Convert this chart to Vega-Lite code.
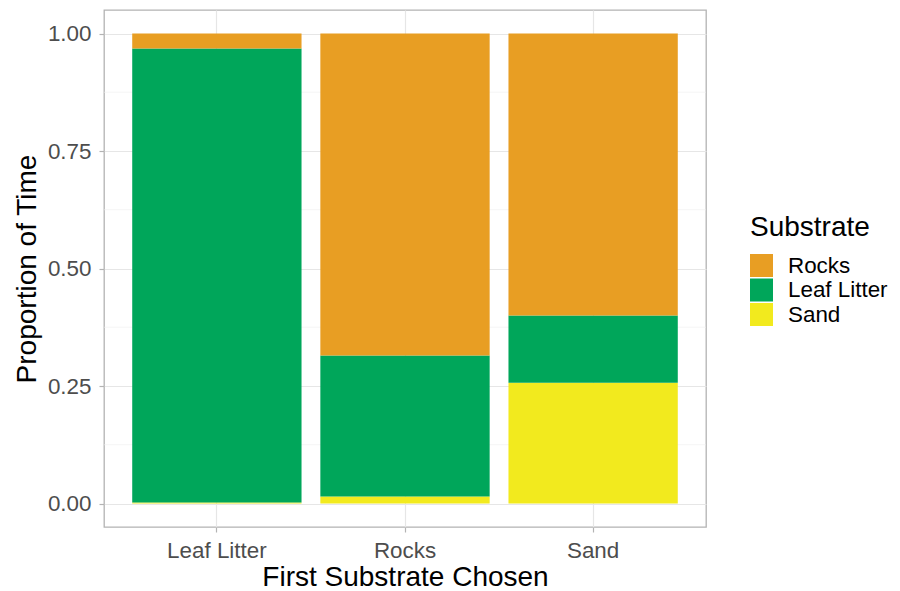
{
  "$schema": "https://vega.github.io/schema/vega-lite/v6.json",
  "width": 602,
  "height": 517,
  "autosize": {"type": "none"},
  "padding": {"left": 104, "top": 10, "right": 194, "bottom": 64},
  "background": "white",
  "config": {
    "font": "Liberation Sans",
    "view": {"stroke": "#b3b3b3", "strokeWidth": 1.3},
    "axis": {
      "labelFont": "Liberation Sans",
      "titleFont": "Liberation Sans",
      "labelFontSize": 22.4,
      "labelColor": "#4d4d4d",
      "titleFontSize": 28,
      "titleFontWeight": "normal",
      "titleColor": "#000000",
      "domain": false,
      "tickColor": "#b3b3b3",
      "tickSize": 5,
      "tickWidth": 1.2,
      "gridColor": "#e6e6e6",
      "gridWidth": 1.2
    },
    "legend": {
      "titleFont": "Liberation Sans",
      "labelFont": "Liberation Sans"
    }
  },
  "datasets": {
    "props": [
      {"first": "Leaf Litter", "Substrate": "Sand", "proportion": 0.002},
      {"first": "Leaf Litter", "Substrate": "Leaf Litter", "proportion": 0.966},
      {"first": "Leaf Litter", "Substrate": "Rocks", "proportion": 0.032},
      {"first": "Rocks", "Substrate": "Sand", "proportion": 0.015},
      {"first": "Rocks", "Substrate": "Leaf Litter", "proportion": 0.300},
      {"first": "Rocks", "Substrate": "Rocks", "proportion": 0.685},
      {"first": "Sand", "Substrate": "Sand", "proportion": 0.257},
      {"first": "Sand", "Substrate": "Leaf Litter", "proportion": 0.143},
      {"first": "Sand", "Substrate": "Rocks", "proportion": 0.600}
    ],
    "minor": [
      {"v": 0.125}, {"v": 0.375}, {"v": 0.625}, {"v": 0.875}
    ]
  },
  "layer": [
    {
      "data": {"name": "minor"},
      "mark": {"type": "rule", "color": "#eeeeee", "strokeWidth": 0.6},
      "encoding": {
        "y": {"field": "v", "type": "quantitative", "scale": {"domain": [-0.05, 1.05], "nice": false, "zero": false}}
      }
    },
    {
      "data": {"name": "props"},
      "transform": [
        {"calculate": "indexof(['Sand','Leaf Litter','Rocks'], datum.Substrate)", "as": "stackOrder"}
      ],
      "mark": {"type": "bar"},
      "encoding": {
        "x": {
          "field": "first",
          "type": "nominal",
          "title": "First Substrate Chosen",
          "sort": ["Leaf Litter", "Rocks", "Sand"],
          "scale": {"paddingInner": 0.1, "paddingOuter": 0.15},
          "axis": {"labelAngle": 0, "grid": true, "labelPadding": 7, "titlePadding": 2}
        },
        "y": {
          "field": "proportion",
          "type": "quantitative",
          "stack": "zero",
          "title": "Proportion of Time",
          "scale": {"domain": [-0.05, 1.05], "nice": false, "zero": false},
          "axis": {"values": [0, 0.25, 0.5, 0.75, 1], "format": ".2f", "labelPadding": 8, "titlePadding": 6}
        },
        "color": {
          "field": "Substrate",
          "type": "nominal",
          "scale": {"domain": ["Rocks", "Leaf Litter", "Sand"], "range": ["#E89E23", "#00A65A", "#F2EA1E"]},
          "legend": {
            "orient": "none",
            "legendX": 646,
            "legendY": 204,
            "title": "Substrate",
            "titleFontSize": 28,
            "titleFontWeight": "normal",
            "titleColor": "#000000",
            "titlePadding": 12,
            "labelFontSize": 22.4,
            "labelColor": "#000000",
            "labelOffset": 15,
            "symbolType": "square",
            "symbolSize": 529,
            "symbolStrokeWidth": 0,
            "symbolOpacity": 1,
            "rowPadding": 1.5
          }
        },
        "order": {"field": "stackOrder", "type": "quantitative"}
      }
    }
  ]
}
